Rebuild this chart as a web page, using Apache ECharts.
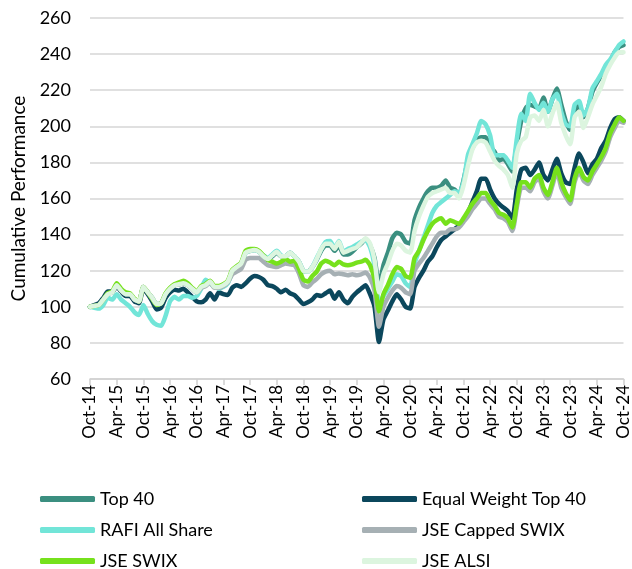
<!DOCTYPE html>
<html>
<head>
<meta charset="utf-8">
<script src="https://cdn.jsdelivr.net/npm/echarts@6.0.0/dist/echarts.min.js"></script>
<style>
  html, body { margin: 0; padding: 0; background: #fff; }
  #main { width: 632px; height: 569px; }
</style>
</head>
<body>
<div id="main"></div>
<script>
// month labels, Oct-14 .. Oct-24 (monthly)
const monthNames = ["Jan", "Feb", "Mar", "Apr", "May", "Jun", "Jul", "Aug", "Sep", "Oct", "Nov", "Dec"];
const months = [];
for (let i = 0; i <= 120; i++) {
  months.push(monthNames[(9 + i) % 12] + "-" + (14 + Math.floor((9 + i) / 12)));
}

// values, one per month
const top40 = [
  100, 100.5, 101, 104, 107.5, 108, 112, 109, 107, 107,
  104, 103, 111, 108, 105, 101.5, 102, 107, 110, 112,
  112.5, 113, 112, 110, 108, 111, 112, 114, 111, 111,
  112, 114, 120, 122, 124, 130, 131, 131.5, 130.5, 128,
  126, 128, 130, 128, 128, 130, 128, 125, 120, 119.5,
  122, 126, 131, 134, 134, 131, 134, 129, 129, 130.5,
  133, 135, 137.5, 134, 127, 112, 123, 130, 138, 141,
  140, 136, 135, 148, 155, 160, 164, 166, 166, 167,
  170, 166, 165, 162, 170, 181, 188, 192, 194, 194,
  189, 186, 181, 182, 179, 175, 190, 203, 210, 212,
  211, 210, 216, 208, 215, 221, 212, 203, 198, 208,
  212, 205, 210, 219, 224, 228, 233, 236, 241, 244,
  245
];
const equalWeight = [
  100, 101, 102, 105, 108.5, 108.5, 111, 108.5, 106, 106,
  103, 102, 110, 107, 103, 98.5, 99.5, 105, 108, 109.5,
  109, 110, 108, 105.5, 103, 102.5, 104, 107.5, 104, 108,
  107, 106.5, 110.5, 112, 111, 113, 115.5, 117, 116.5, 115,
  112, 111.5, 110, 108, 109.5, 107.5, 106.5, 104, 101.5, 102.5,
  104, 106.5, 106, 107.5, 109, 104.5, 108, 104, 102, 105.5,
  108, 110, 112, 107, 100, 80.5, 93, 98, 103, 107,
  104, 100, 99, 111, 116, 120, 125, 128, 133, 137,
  139, 141, 143, 145, 148, 152, 158, 164, 171, 171,
  165, 160, 157, 155, 153, 149, 165, 176, 177, 173,
  176, 180, 173, 170, 176, 182, 174, 169, 168, 177,
  185, 180, 174, 179, 182, 188, 192, 199, 204, 205,
  203
];
const rafi = [
  100, 99.5, 99, 101, 105, 104, 107, 104, 102, 100,
  97, 95.5, 101, 96, 92, 90, 89.5, 95, 103, 105.5,
  104, 106, 106, 105, 106, 110, 115, 113, 111, 110,
  111, 113, 119, 122, 124, 130, 131, 131.5, 130.5, 128.5,
  127, 129, 131, 128.5, 128, 130, 128, 125, 120, 119.5,
  122, 127, 132, 136, 136.5, 132.5, 136.5, 130.5, 132, 133,
  134.5, 136, 137, 133, 123, 102, 106, 110, 114, 118,
  117, 113, 111, 124, 131, 138, 145, 152, 156, 158,
  160, 162, 164, 163, 169, 184, 190, 196, 203, 201,
  195, 184, 184, 184, 181, 177, 193, 207, 203, 218,
  213, 209, 213, 208, 215, 218, 208, 201, 200, 212,
  214, 206, 210, 221, 225, 229, 234, 237, 241, 245,
  247
];
const cappedSwix = [
  100, 100.5, 101, 104, 107, 108, 112, 109, 107, 107,
  104, 103, 111, 108, 104.5, 101, 102, 107, 110, 112,
  112.5, 113, 112, 110, 108, 110.5, 111.5, 113.5, 110.5, 110.5,
  111.5, 113.5, 118, 119.5, 121, 126, 127, 127, 127, 125,
  123, 122.5, 122, 123, 124, 123.5, 123, 118.5, 112, 111,
  113.5, 115.5, 118, 119.5, 120, 118, 118.5, 118, 117.5, 118,
  117.5, 118, 119, 116, 109, 89, 100, 105, 109, 111.5,
  110.5, 108, 107, 120, 124, 127, 131, 135, 139, 141,
  141, 143, 143, 144, 147, 150, 154, 157, 160, 160,
  157, 154, 150, 149, 147, 142, 155, 166, 166, 164,
  169, 171, 164, 160, 167, 175, 166, 161, 157, 169,
  175, 170, 168, 173, 177, 181, 186, 194, 199, 203,
  202
];
const swix = [
  100, 100.5, 101, 104, 107.5, 108.5, 113, 110, 108, 107.5,
  104.5, 103, 111, 108, 104.5, 101, 102, 107.5, 110.5, 112.5,
  113.5, 114.5, 113, 110.5, 108.5, 111.5, 112.5, 114.5, 111.5, 111.5,
  112.5, 114.5, 120.5, 122.5, 124.5, 131, 132, 132, 131, 128.5,
  126, 125, 124, 125, 126.5, 125, 125.5, 121, 115, 114,
  117, 119.5, 124, 125.5, 124.5, 123, 125, 123.5, 123, 123.5,
  124.5, 125, 126, 123, 115, 97.5, 107, 112, 118, 122,
  121, 117, 116, 127, 131, 137, 142, 146, 148, 149,
  146, 148, 147, 146, 149, 153, 157, 160, 163, 163,
  159, 156, 152, 151, 149, 144, 157, 169, 169, 166,
  171, 173, 166, 162, 169, 177, 169, 163, 159, 171,
  177, 172, 170, 175, 179, 183, 188, 196, 201, 205,
  203
];
const alsi = [
  100, 100.5, 101, 104, 107, 108, 112, 109, 107, 107,
  104, 103, 111, 108, 105, 101.5, 102, 107, 110, 112,
  112.5, 113, 112, 110, 108, 111, 112, 114, 111, 111,
  112, 114, 120, 122, 124, 130, 131, 131.5, 130.5, 128,
  126.5, 128.5, 130.5, 128, 128, 130, 128, 125, 120, 119.5,
  122, 126.5, 132, 135, 135, 132, 136, 130, 131, 132,
  133, 135.5, 138, 135, 126, 108, 118, 124, 131, 135,
  134, 131, 130, 142, 150, 156, 161, 163, 164, 165,
  166, 163, 163, 160, 167, 178, 187, 191, 192, 191,
  186, 181, 178, 176, 173, 166, 185, 192, 194, 205,
  206, 203, 209, 200, 207, 213, 202, 195, 190, 205,
  208, 199, 205, 212, 217, 222, 229, 234, 238, 241,
  241
];

const seriesList = [
  { name: "Top 40", data: top40, color: "#3b8f80" },
  { name: "Equal Weight Top 40", data: equalWeight, color: "#0b475c" },
  { name: "RAFI All Share", data: rafi, color: "#72e5d8" },
  { name: "JSE Capped SWIX", data: cappedSwix, color: "#a6b0b4" },
  { name: "JSE SWIX", data: swix, color: "#76e11c" },
  { name: "JSE ALSI", data: alsi, color: "#dcf5df" }
];

const font = "Lato, 'Noto Sans', sans-serif";
const myChart = echarts.init(document.getElementById("main"));

// two vertical legend columns
const legendBase = {
  orient: "vertical",
  top: 490,
  height: 120,
  padding: 0,
  icon: "roundRect",
  itemWidth: 55,
  itemHeight: 6,
  itemGap: 13,
  textStyle: { fontSize: 18, lineHeight: 18, color: "#000", fontFamily: font },
  selectedMode: false
};

myChart.setOption({
  animation: false,
  backgroundColor: "#fff",
  grid: { left: 90, right: 8, top: 18, bottom: 190, containLabel: false },
  legend: [
    Object.assign({}, legendBase, { left: 40, data: ["Top 40", "RAFI All Share", "JSE SWIX"] }),
    Object.assign({}, legendBase, { left: 362, data: ["Equal Weight Top 40", "JSE Capped SWIX", "JSE ALSI"] })
  ],
  xAxis: {
    type: "category",
    data: months,
    boundaryGap: false,
    axisLine: { lineStyle: { color: "#d0d0d0", width: 1.5 } },
    axisTick: { interval: 5, length: 6, lineStyle: { color: "#d0d0d0", width: 1.5 } },
    axisLabel: {
      interval: 5,
      rotate: 90,
      margin: 6,
      fontSize: 17,
      color: "#000",
      fontFamily: font
    },
    splitLine: { show: false }
  },
  yAxis: {
    type: "value",
    min: 60,
    max: 260,
    interval: 20,
    name: "Cumulative Performance",
    nameLocation: "middle",
    nameGap: 62,
    nameTextStyle: { fontSize: 19, color: "#000", fontFamily: font },
    axisLine: { show: false },
    axisTick: { show: false },
    axisLabel: { fontSize: 18, color: "#000", fontFamily: font, margin: 19 },
    splitLine: { lineStyle: { color: "#d6d6d6", width: 1.5 } }
  },
  series: seriesList.map(s => ({
    name: s.name,
    type: "line",
    data: s.data,
    symbol: "none",
    smooth: 0.2,
    color: s.color,
    lineStyle: { width: 4.5, color: s.color, cap: "round", join: "round" }
  }))
});
</script>
</body>
</html>
